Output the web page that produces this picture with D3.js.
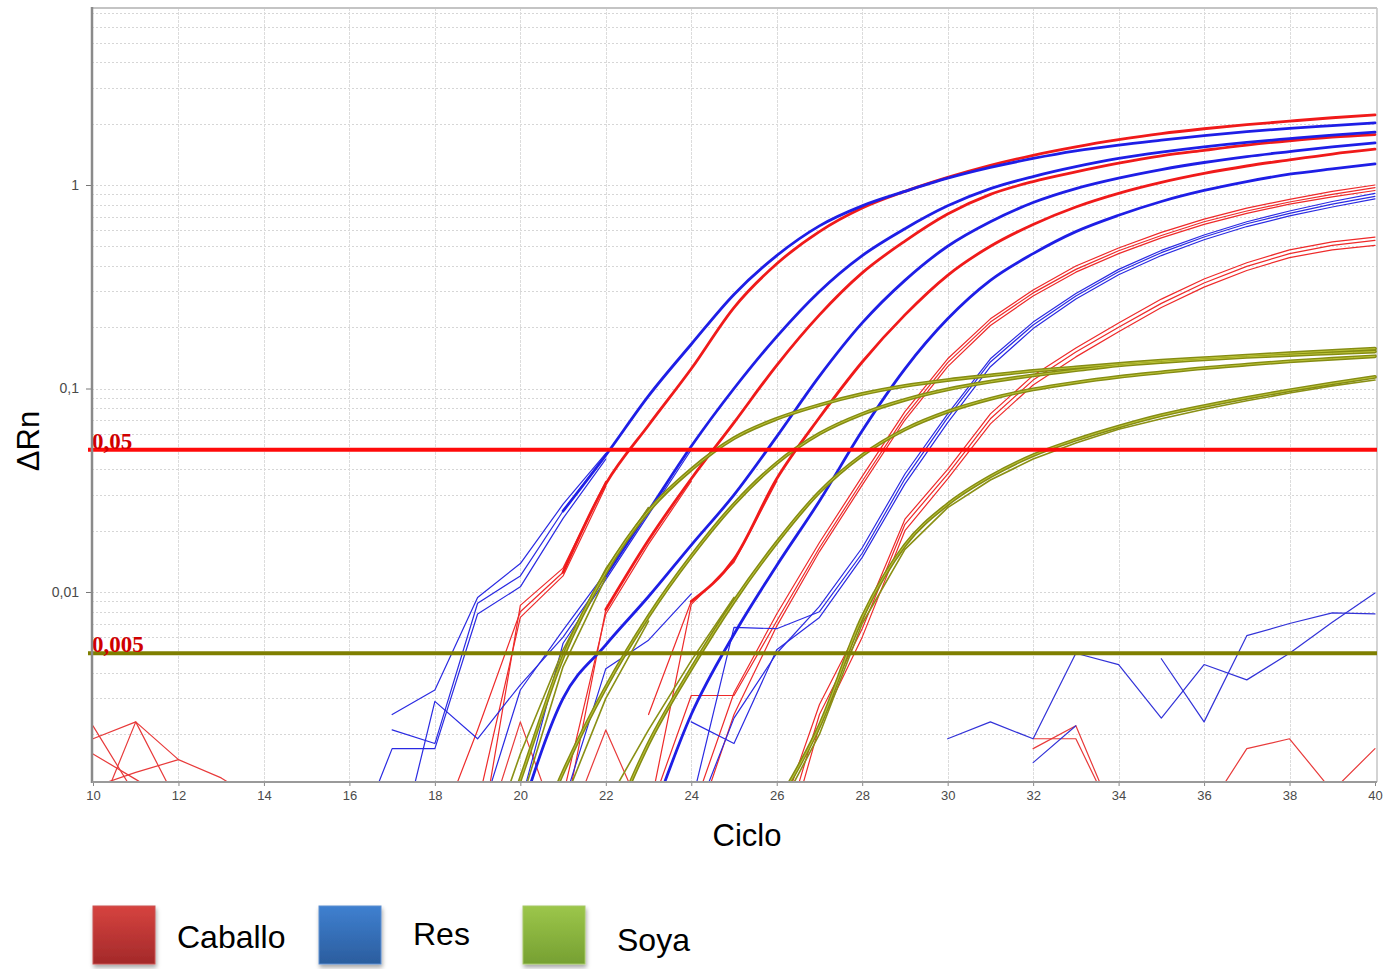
<!DOCTYPE html>
<html>
<head>
<meta charset="utf-8">
<script src="https://cdn.jsdelivr.net/npm/d3@7"></script>
<style>
  html, body { margin: 0; padding: 0; background: #ffffff; }
  svg { display: block; }
</style>
</head>
<body>
<svg id="chart" width="1383" height="969"></svg>
<script>
// ---- axis values -------------------------------------------------------
const xTicks = [10, 12, 14, 16, 18, 20, 22, 24, 26, 28, 30, 32, 34, 36, 38, 40];
const xDomain = [10, 40];
const yTicks = [1, 0.1, 0.01];
const yTickLabels = ["1", "0,1", "0,01"];
const yDomain = [0.001165, 7.41];
const thresholds = [0.05, 0.005];
const thresholdLabels = ["0,05", "0,005"];
const species = ["Caballo", "Res", "Soya"];

// ---- amplification curves: [first cycle, ΔRn per cycle] ----------------
// Caballo: merged replicate traces
const caballoThick = [
  [21, [0.0125, 0.034, 0.066, 0.125, 0.25, 0.41, 0.59, 0.77, 0.93, 1.09, 1.25, 1.40, 1.54, 1.67, 1.79, 1.89, 1.98, 2.06, 2.14, 2.21]],
  [22, [0.0082, 0.018, 0.036, 0.068, 0.13, 0.23, 0.37, 0.53, 0.72, 0.90, 1.04, 1.16, 1.28, 1.39, 1.48, 1.57, 1.65, 1.72, 1.77]],
  [24, [0.009, 0.0145, 0.036, 0.072, 0.135, 0.23, 0.36, 0.50, 0.64, 0.78, 0.91, 1.03, 1.14, 1.24, 1.33, 1.42, 1.50]]
];
// Caballo: individual replicate traces
const caballoThin = [
  [18, [0.0006, 0.0021, 0.0080, 0.0125]],
  [19, [0.0009, 0.0075, 0.0120, 0.033]],
  [19, [0.0005, 0.0086, 0.0131, 0.035]],
  [21, [0.0007, 0.0082]],
  [21, [0.0010, 0.0078, 0.0172, 0.035]],
  [23, [0.0025, 0.009]],
  [23, [0.0008, 0.0087, 0.0140, 0.035]],
  [24, [0.0008, 0.0032, 0.0078, 0.0175, 0.037, 0.077, 0.14, 0.22, 0.305, 0.40, 0.49, 0.585, 0.68, 0.77, 0.85, 0.93, 1.0]],
  [23, [0.0008, 0.0031, 0.0031, 0.0072, 0.0165, 0.035, 0.073, 0.134, 0.212, 0.295, 0.385, 0.475, 0.565, 0.66, 0.745, 0.825, 0.9, 0.97]],
  [24, [0.0006, 0.0025, 0.0068, 0.0158, 0.0335, 0.07, 0.128, 0.204, 0.285, 0.373, 0.46, 0.55, 0.64, 0.725, 0.805, 0.875, 0.94]],
  [26, [0.0007, 0.0028, 0.0072, 0.0228, 0.040, 0.075, 0.116, 0.158, 0.21, 0.275, 0.345, 0.415, 0.48, 0.525, 0.555]],
  [26, [0.0005, 0.0025, 0.0066, 0.0215, 0.038, 0.071, 0.110, 0.151, 0.20, 0.262, 0.33, 0.398, 0.46, 0.505, 0.535]],
  [26, [0.0004, 0.0022, 0.0060, 0.0200, 0.036, 0.067, 0.104, 0.143, 0.19, 0.25, 0.315, 0.38, 0.44, 0.48, 0.505]]
];
// Caballo: baseline noise
const caballoNoise = [
  [10, [0.0022, 0.0010]],
  [10, [0.0016, 0.0012, 0.0009]],
  [10, [0.0007, 0.0023, 0.0009]],
  [10, [0.0019, 0.0023, 0.0015, 0.00122, 0.0009]],
  [10, [0.0011, 0.0013, 0.0015]],
  [19, [0.0005, 0.0023, 0.0006]],
  [21, [0.0006, 0.0021, 0.0007]],
  [32, [0.0017, 0.0022, 0.0007]],
  [32, [0.0019, 0.0019, 0.0007]],
  [36, [0.0008, 0.0017, 0.0019, 0.00105, 0.0017]]
];

// Res
const resThick = [
  [21, [0.025, 0.047, 0.092, 0.165, 0.29, 0.45, 0.63, 0.79, 0.93, 1.08, 1.22, 1.35, 1.47, 1.57, 1.66, 1.75, 1.83, 1.90, 1.96, 2.02]],
  [22, [0.012, 0.025, 0.052, 0.10, 0.18, 0.30, 0.45, 0.61, 0.79, 0.96, 1.10, 1.23, 1.35, 1.45, 1.54, 1.62, 1.69, 1.76, 1.82]],
  [20, [0.0008, 0.003, 0.0055, 0.0095, 0.017, 0.030, 0.058, 0.115, 0.21, 0.34, 0.50, 0.66, 0.82, 0.96, 1.08, 1.19, 1.29, 1.38, 1.46, 1.54, 1.61]],
  [23, [0.0007, 0.0025, 0.0062, 0.0135, 0.028, 0.062, 0.125, 0.22, 0.34, 0.46, 0.59, 0.71, 0.83, 0.94, 1.04, 1.13, 1.20, 1.27]]
];
const resThin = [
  [17, [0.0025, 0.0033, 0.0094, 0.0138, 0.027, 0.048]],
  [17, [0.0021, 0.0018, 0.0088, 0.0120, 0.025, 0.047]],
  [16, [0.0005, 0.0017, 0.0017, 0.0078, 0.0106, 0.023, 0.045]],
  [17, [0.0004, 0.0029, 0.0019, 0.0035, 0.006, 0.012]],
  [19, [0.0007, 0.0033, 0.0065, 0.0125, 0.026]],
  [20, [0.0009, 0.0056, 0.0115, 0.024, 0.05]],
  [21, [0.0009, 0.0042, 0.0058, 0.0098]],
  [24, [0.0009, 0.0067, 0.0066, 0.0080, 0.0155, 0.036, 0.072, 0.135, 0.205, 0.285, 0.375, 0.465, 0.555, 0.645, 0.725, 0.805, 0.88]],
  [24, [0.0007, 0.0024, 0.0050, 0.0085, 0.0165, 0.038, 0.075, 0.14, 0.212, 0.293, 0.385, 0.477, 0.568, 0.66, 0.745, 0.83, 0.91]],
  [24, [0.0023, 0.0018, 0.0052, 0.0075, 0.0148, 0.034, 0.068, 0.128, 0.197, 0.275, 0.362, 0.45, 0.538, 0.625, 0.705, 0.78, 0.855]]
];
const resNoise = [
  [30, [0.0019, 0.0023, 0.0019, 0.0050, 0.0044, 0.0024, 0.0044, 0.0037, 0.0050, 0.0071, 0.0099]],
  [35, [0.0047, 0.0023, 0.0061, 0.0070, 0.0079, 0.0078]],
  [32, [0.00145, 0.0022]]
];

// Soya
const soyaThick = [
  [19, [0.0003, 0.0012, 0.0048, 0.0125, 0.025, 0.040, 0.057, 0.071, 0.083, 0.094, 0.103, 0.110, 0.116, 0.122, 0.127, 0.132, 0.137, 0.141, 0.145, 0.149, 0.153, 0.157]],
  [20, [0.0004, 0.0013, 0.0034, 0.0076, 0.015, 0.027, 0.043, 0.060, 0.075, 0.088, 0.099, 0.108, 0.116, 0.123, 0.130, 0.135, 0.139, 0.143, 0.146, 0.149, 0.152]],
  [22, [0.0006, 0.0018, 0.0042, 0.009, 0.0175, 0.031, 0.047, 0.063, 0.077, 0.089, 0.099, 0.107, 0.114, 0.120, 0.126, 0.131, 0.136, 0.140, 0.144]],
  [25, [0.0004, 0.0009, 0.0022, 0.0075, 0.017, 0.027, 0.037, 0.047, 0.056, 0.065, 0.074, 0.082, 0.090, 0.098, 0.106, 0.114]]
];
const soyaThin = [
  [19, [0.0004, 0.0016, 0.0052, 0.013, 0.026]],
  [20, [0.0009, 0.0043, 0.0118]],
  [21, [0.0009, 0.0030, 0.0072]],
  [22, [0.0009, 0.0021, 0.0046, 0.0094]],
  [25, [0.0003, 0.0008, 0.0020, 0.0070, 0.0162, 0.026, 0.0355, 0.045, 0.054, 0.063, 0.071, 0.079, 0.087, 0.095, 0.103, 0.110]]
];

// ---- layout ------------------------------------------------------------
const plot = { left: 92, right: 1377, top: 8, bottom: 782 };
const svg = d3.select("#chart");

const x = d3.scaleLinear().domain(xDomain).range([93, 1375]);
const y = d3.scaleLog().domain(yDomain).range([plot.bottom, plot.top]);

const defs = svg.append("defs");
defs.append("clipPath").attr("id", "plotClip")
  .append("rect")
  .attr("x", plot.left).attr("y", plot.top)
  .attr("width", plot.right - plot.left).attr("height", plot.bottom - plot.top);

// grid: minor log lines (dotted) and cycle lines
const gGrid = svg.append("g");
gGrid.selectAll("line.h")
  .data(y.ticks())
  .join("line")
  .attr("x1", plot.left).attr("x2", plot.right)
  .attr("y1", d => Math.round(y(d)) + 0.5).attr("y2", d => Math.round(y(d)) + 0.5)
  .attr("stroke", "#d6d6d6").attr("stroke-width", 1)
  .attr("stroke-dasharray", "2,2");
gGrid.selectAll("line.v")
  .data(xTicks.slice(1, -1))
  .join("line")
  .attr("x1", d => Math.round(x(d)) + 0.5).attr("x2", d => Math.round(x(d)) + 0.5)
  .attr("y1", plot.top).attr("y2", plot.bottom)
  .attr("stroke", "#dcdcdc").attr("stroke-width", 1)
  .attr("stroke-dasharray", "3,1");

// frame
svg.append("line").attr("x1", plot.left).attr("x2", plot.right).attr("y1", plot.top).attr("y2", plot.top)
  .attr("stroke", "#c4c4c4").attr("stroke-width", 2);
svg.append("line").attr("x1", plot.right).attr("x2", plot.right).attr("y1", plot.top).attr("y2", plot.bottom)
  .attr("stroke", "#c4c4c4").attr("stroke-width", 1.5);

// curves
const toPoints = ([from, vals]) => vals.map((v, i) => [from + i, v]);
const smoothLine = d3.line().x(d => x(d[0])).y(d => y(d[1])).curve(d3.curveMonotoneX);
const rawLine = d3.line().x(d => x(d[0])).y(d => y(d[1]));
const gCurves = svg.append("g").attr("clip-path", "url(#plotClip)").attr("fill", "none")
  .attr("stroke-linejoin", "round").attr("stroke-linecap", "round");

function drawSet(data, color, width, gen) {
  gCurves.append("g").selectAll("path")
    .data(data)
    .join("path")
    .attr("d", d => gen(toPoints(d)))
    .attr("stroke", color)
    .attr("stroke-width", width);
}

drawSet(caballoNoise, "#e83a3a", 1.2, rawLine);
drawSet(resNoise, "#3232d8", 1.2, rawLine);
drawSet(caballoThin, "#ee2a2a", 1.2, rawLine);
drawSet(caballoThick, "#f01a1a", 2.8, smoothLine);
drawSet(resThin, "#2a2ae2", 1.2, rawLine);
drawSet(resThick, "#1e1ee6", 2.8, smoothLine);
drawSet(soyaThin, "#8a9014", 1.6, rawLine);
drawSet(soyaThick, "#858c12", 3.8, smoothLine);
drawSet(soyaThick, "#bcc43a", 1.0, smoothLine);

// thresholds
const thrColors = ["#ff0a0a", "#7f7f00"];
svg.append("g").selectAll("line")
  .data(thresholds)
  .join("line")
  .attr("x1", 88).attr("x2", plot.right)
  .attr("y1", d => y(d)).attr("y2", d => y(d))
  .attr("stroke", (d, i) => thrColors[i])
  .attr("stroke-width", 4);
svg.append("g").selectAll("text")
  .data(thresholds)
  .join("text")
  .attr("x", 92).attr("y", d => y(d) - 1)
  .attr("fill", "#d00000")
  .style("font-family", "'Liberation Serif', 'Times New Roman', serif")
  .style("font-weight", "bold")
  .style("font-size", "23px")
  .text((d, i) => thresholdLabels[i]);

// axes
const yAxis = d3.axisLeft(y).tickValues(yTicks).tickFormat((d, i) => yTickLabels[i]).tickSize(6).tickPadding(7);
const gy = svg.append("g").attr("transform", `translate(${plot.left},0)`).call(yAxis);
gy.select(".domain").remove();
gy.selectAll(".tick line").attr("stroke", "#777");
gy.selectAll(".tick text").attr("fill", "#4a4a4a")
  .style("font-family", "'Liberation Sans', Arial, sans-serif").style("font-size", "14px");

const xAxis = d3.axisBottom(x).tickValues(xTicks).tickSize(4).tickPadding(5);
const gx = svg.append("g").attr("transform", `translate(0,${plot.bottom})`).call(xAxis);
gx.select(".domain").remove();
gx.selectAll(".tick line").attr("stroke", "#888");
gx.selectAll(".tick text").attr("fill", "#4a4a4a")
  .style("font-family", "'Liberation Sans', Arial, sans-serif").style("font-size", "13px");

svg.append("line").attr("x1", plot.left).attr("x2", plot.left).attr("y1", plot.top - 1).attr("y2", plot.bottom + 1)
  .attr("stroke", "#8a8a8a").attr("stroke-width", 2.5);
svg.append("line").attr("x1", plot.left).attr("x2", plot.right).attr("y1", plot.bottom).attr("y2", plot.bottom)
  .attr("stroke", "#9a9a9a").attr("stroke-width", 2);

// axis titles
svg.append("text")
  .attr("transform", "translate(39,441) rotate(-90)")
  .attr("text-anchor", "middle")
  .style("font-family", "'Liberation Sans', Arial, sans-serif").style("font-size", "31px")
  .attr("fill", "#000")
  .text("ΔRn");
svg.append("text")
  .attr("x", 747).attr("y", 846)
  .attr("text-anchor", "middle")
  .style("font-family", "'Liberation Sans', Arial, sans-serif").style("font-size", "31px")
  .attr("fill", "#000")
  .text("Ciclo");

// legend
const legendTop = ["#d6433f", "#3f80d0", "#9cc64a"];
const legendBottom = ["#a3292a", "#2b5d9e", "#76a032"];
const legendEdge = ["#c95452", "#5c8fd0", "#a5c866"];
const legendX = [93, 319, 523];
const legendTextX = [177, 413, 617];
const legendTextY = [948, 945, 951];

const shadow = defs.append("filter").attr("id", "sq-shadow")
  .attr("x", "-20%").attr("y", "-20%").attr("width", "150%").attr("height", "150%");
shadow.append("feDropShadow").attr("dx", 1).attr("dy", 3).attr("stdDeviation", 2.2)
  .attr("flood-color", "#000").attr("flood-opacity", 0.35);

species.forEach((s, i) => {
  const grad = defs.append("linearGradient").attr("id", "lg" + i)
    .attr("x1", 0).attr("y1", 0).attr("x2", 0).attr("y2", 1);
  grad.append("stop").attr("offset", "0%").attr("stop-color", legendTop[i]);
  grad.append("stop").attr("offset", "100%").attr("stop-color", legendBottom[i]);
});

const gLegend = svg.append("g");
gLegend.selectAll("rect")
  .data(species)
  .join("rect")
  .attr("x", (d, i) => legendX[i]).attr("y", 906)
  .attr("width", 62).attr("height", 58)
  .attr("fill", (d, i) => `url(#lg${i})`)
  .attr("stroke", (d, i) => legendEdge[i]).attr("stroke-width", 1)
  .attr("filter", "url(#sq-shadow)");
gLegend.selectAll("text")
  .data(species)
  .join("text")
  .attr("x", (d, i) => legendTextX[i]).attr("y", (d, i) => legendTextY[i])
  .style("font-family", "'Liberation Sans', Arial, sans-serif").style("font-size", "32px")
  .attr("fill", "#000")
  .text(d => d);
</script>
</body>
</html>
